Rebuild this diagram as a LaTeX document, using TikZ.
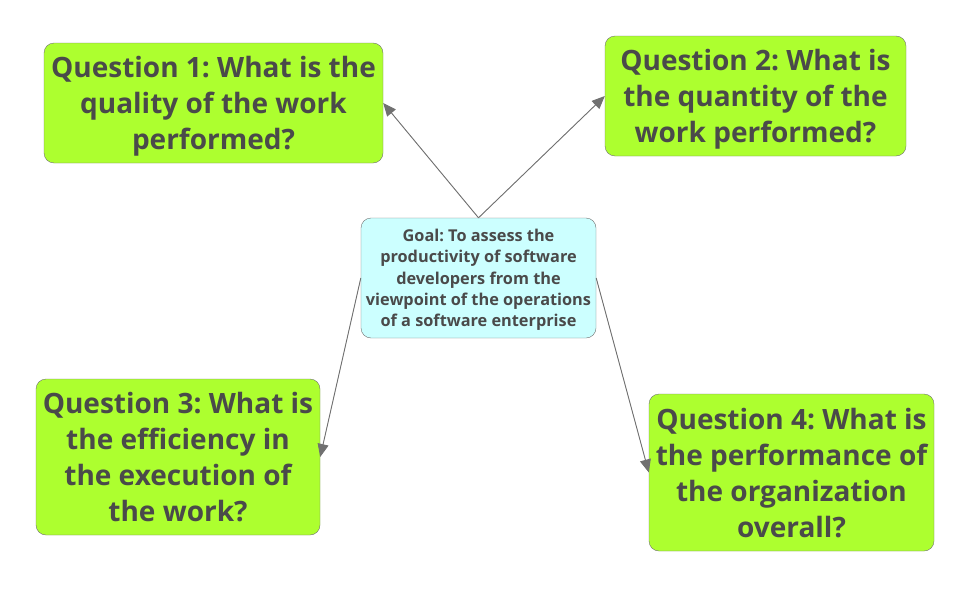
\documentclass[tikz,border=0pt]{standalone}
\usepackage{fontspec}
\setmainfont{Open Sans}
\usepackage{xcolor}
\usepackage{tikz}
\usetikzlibrary{arrows.meta, positioning}

\definecolor{qgreen}{HTML}{ADFF2F}
\definecolor{goalcyan}{HTML}{CCFFFF}
\definecolor{edgegray}{HTML}{707070}
\definecolor{textgray}{HTML}{4A4A4A}

\frenchspacing

\begin{document}
\begin{tikzpicture}[
    x=1pt, y=-1pt,
    question/.style={draw=edgegray, fill=qgreen, rectangle, rounded corners=10pt, align=center,
        text depth=0pt, text=textgray, font=\fontsize{28}{36}\selectfont\bfseries},
    goal/.style={draw=edgegray, fill=goalcyan, rectangle, rounded corners=10pt, align=center,
        text depth=0pt, text=textgray, font=\fontsize{16.3}{21.3}\selectfont\bfseries},
    arrow/.style={-{Triangle[length=13pt, width=11pt]}, draw=edgegray, fill=edgegray, line width=0.9pt}
]
    \useasboundingbox (0,0) rectangle (972,589);

    % Goal in the middle
    \node[goal, minimum width=235pt, minimum height=120pt] (goal) at (478.5,278)
        {Goal: To assess the\\productivity of software\\developers from the\\viewpoint of the operations\\of a software enterprise};

    % Questions around it
    \node[question, minimum width=339pt, minimum height=120pt] (q1) at (213.5,103)
        {Question 1: What is the\\quality of the work\\performed?};
    \node[question, minimum width=301pt, minimum height=120pt] (q2) at (755.5,96)
        {Question 2: What is\\the quantity of the\\work performed?};
    \node[question, minimum width=284pt, minimum height=156pt] (q3) at (178,457)
        {Question 3: What is\\the efficiency in\\the execution of\\the work?};
    \node[question, minimum width=285pt, minimum height=157pt] (q4) at (791.5,472.5)
        {Question 4: What is\\the performance of\\the organization\\overall?};

    % Links from the goal
    \draw[arrow] (goal.north) -- (q1.east);
    \draw[arrow] (goal.north) -- (q2.west);
    \draw[arrow] (goal.west) -- (q3.east);
    \draw[arrow] (goal.east) -- (q4.west);

\end{tikzpicture}
\end{document}
